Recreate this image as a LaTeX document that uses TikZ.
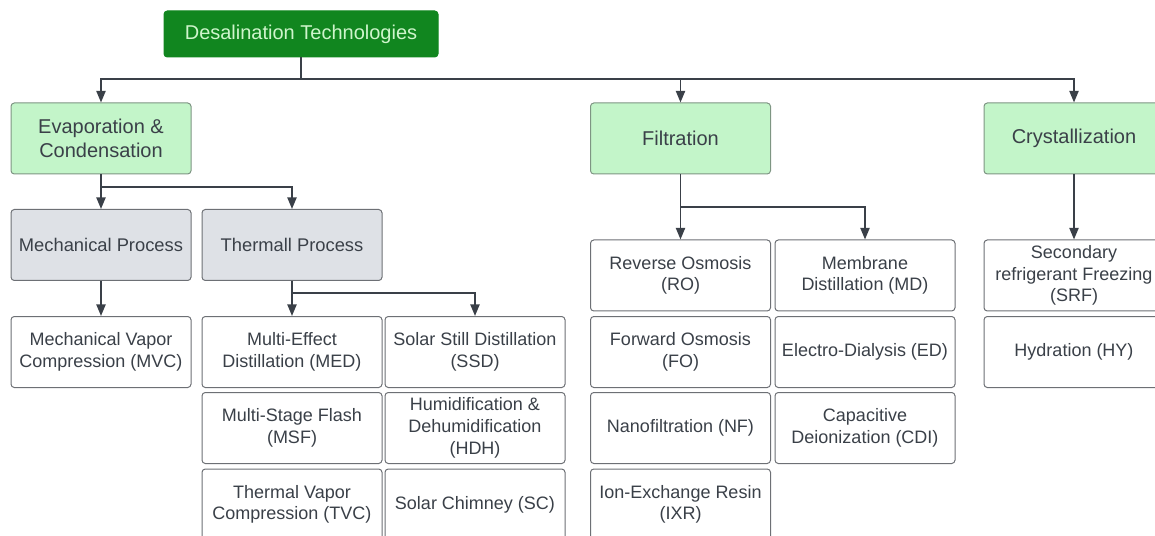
\documentclass[tikz,border=0pt]{standalone}
\usepackage{fontspec}
\setmainfont{Liberation Sans}
\usetikzlibrary{arrows.meta}
\definecolor{rootgreen}{HTML}{11861F}
\definecolor{roottext}{HTML}{CFF5CC}
\definecolor{groupgreen}{HTML}{C3F5C9}
\definecolor{groupline}{HTML}{7E9583}
\definecolor{procgray}{HTML}{DEE1E6}
\definecolor{boxline}{HTML}{6D7075}
\definecolor{inkgray}{HTML}{3A4048}
\tikzset{
  box/.style={rectangle,rounded corners=2pt,draw=boxline,line width=0.6pt,
    align=center,text=inkgray,inner sep=1pt,minimum width=108pt,
    minimum height=42.6pt,font=\fontsize{10.8}{13}\selectfont},
  root box/.style={box,fill=rootgreen,draw=rootgreen,text=roottext,
    minimum width=164.4pt,minimum height=27.6pt,
    font=\fontsize{12}{14.4}\selectfont},
  group box/.style={box,fill=groupgreen,draw=groupline,
    font=\fontsize{12}{14}\selectfont},
  process box/.style={box,fill=procgray,font=\fontsize{11}{13}\selectfont},
  leaf box/.style={box,fill=white},
  link/.style={draw=inkgray,line width=1.1pt,
    -{Triangle[length=7pt,width=5.5pt]}}
}

\begin{document}
\begin{tikzpicture}[x=0.6pt,y=-0.6pt]
  \useasboundingbox (0,0) rectangle (1155,536);
  \clip (0,0) rectangle (1155,536);
  \node[root box] (root) at (301,34) {Desalination Technologies};
  \node[group box] (evap) at (101,138.5) {Evaporation \&\\Condensation};
  \node[group box] (filt) at (680.5,138.5) {Filtration};
  \node[group box] (cryst) at (1074,138.5) {Crystallization};
  \node[process box] (mech) at (101,245) {Mechanical Process};
  \node[process box] (therm) at (292,245) {Thermall Process};
  \node[leaf box] (mvc) at (101,352) {Mechanical Vapor\\Compression (MVC)};
  \node[leaf box] (med) at (292,352) {Multi-Effect\\Distillation (MED)};
  \node[leaf box] (msf) at (292,428) {Multi-Stage Flash\\(MSF)};
  \node[leaf box] (tvc) at (292,504.5) {Thermal Vapor\\Compression (TVC)};
  \node[leaf box] (ssd) at (475,352) {Solar Still Distillation\\(SSD)};
  \node[leaf box] (hdh) at (475,428) {Humidification \&\\Dehumidification\\(HDH)};
  \node[leaf box] (sc) at (475,504.5) {Solar Chimney (SC)};
  \node[leaf box] (ro) at (680.5,275.5) {Reverse Osmosis\\(RO)};
  \node[leaf box] (fo) at (680.5,352) {Forward Osmosis\\(FO)};
  \node[leaf box] (nf) at (680.5,428) {Nanofiltration (NF)};
  \node[leaf box] (ixr) at (680.5,504.5) {Ion-Exchange Resin\\(IXR)};
  \node[leaf box] (md) at (865,275.5) {Membrane\\Distillation (MD)};
  \node[leaf box] (ed) at (865,352) {Electro-Dialysis (ED)};
  \node[leaf box] (cdi) at (865,428) {Capacitive\\Deionization (CDI)};
  \node[leaf box] (srf) at (1074,275.5) {Secondary\\refrigerant Freezing\\(SRF)};
  \node[leaf box] (hy) at (1074,352) {Hydration (HY)};
  \coordinate (top bus) at (0,79);
  \coordinate (evap bus) at (0,187);
  \coordinate (therm bus) at (0,293);
  \coordinate (filt bus) at (0,207);
  \draw[link] (root.south) |- (evap.north |- top bus) -- (evap.north);
  \draw[link] (root.south) |- (filt.north |- top bus) -- (filt.north);
  \draw[link] (root.south) |- (cryst.north |- top bus) -- (cryst.north);
  \draw[link] (evap.south) |- (mech.north |- evap bus) -- (mech.north);
  \draw[link] (evap.south) |- (therm.north |- evap bus) -- (therm.north);
  \draw[link] (mech.south) -- (mvc.north);
  \draw[link] (therm.south) |- (med.north |- therm bus) -- (med.north);
  \draw[link] (therm.south) |- (ssd.north |- therm bus) -- (ssd.north);
  \draw[link] (filt.south) |- (ro.north |- filt bus) -- (ro.north);
  \draw[link] (filt.south) |- (md.north |- filt bus) -- (md.north);
  \draw[link] (cryst.south) -- (srf.north);
\end{tikzpicture}
\end{document}
